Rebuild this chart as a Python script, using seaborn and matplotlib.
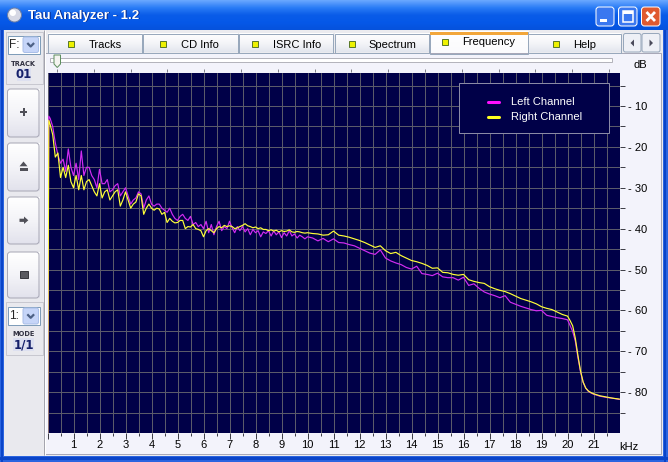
import numpy as np
import pandas as pd
import matplotlib
matplotlib.use("Agg")
import matplotlib.pyplot as plt
import seaborn as sns
from matplotlib.patches import Rectangle, FancyBboxPatch, Circle, Polygon
from matplotlib.colors import LinearSegmentedColormap

# ------------------------------------------------------------------ data
WINDOW_TITLE = "Tau Analyzer - 1.2"
TAB_NAMES = ["Tracks", "CD Info", "ISRC Info", "Spectrum", "Frequency", "Help"]
SELECTED_TAB = "Frequency"
CHANNELS = ["Left Channel", "Right Channel"]

FREQ_LOW = [0.0, 0.05,
            0.1, 0.2, 0.3, 0.4, 0.5, 0.6, 0.7, 0.8, 0.9, 1.0,
            1.1, 1.2, 1.3, 1.4, 1.5, 1.6, 1.7, 1.8, 1.9, 2.0,
            2.1, 2.2, 2.3, 2.4, 2.5, 2.6, 2.7, 2.8, 2.9, 3.0,
            3.1, 3.2, 3.3, 3.4, 3.5, 3.6, 3.7, 3.8, 3.9, 4.0,
            4.1, 4.2, 4.3, 4.4, 4.5, 4.6, 4.7, 4.8, 4.9, 5.0,
            5.1, 5.2, 5.3, 5.4, 5.5, 5.6, 5.7, 5.8, 5.9, 6.0,
            6.1, 6.2, 6.3, 6.4, 6.5, 6.6, 6.7, 6.8, 6.9, 7.0,
            7.1, 7.2, 7.3, 7.4, 7.5, 7.6, 7.7, 7.8, 7.9, 8.0,
            8.1, 8.2, 8.3, 8.4, 8.5, 8.6, 8.7, 8.8, 8.9, 9.0,
            9.1, 9.2, 9.3, 9.4, 9.5, 9.6, 9.7, 9.8, 9.9, 10.0]
LEFT_LOW = [-95, -12.5,
            -13, -15, -19, -22, -24, -23, -26, -20.5, -25, -27,
            -24, -28, -21, -27, -25, -25, -27, -28, -30, -25.5,
            -29, -29, -28, -31, -30.5, -29.5, -29, -32, -31, -30,
            -32, -34, -33, -32.5, -31, -31.5, -35, -33, -32, -34,
            -34.5, -34, -34, -35, -35.5, -36, -35, -36.5, -37.5, -38,
            -37, -36.5, -37.5, -38, -37, -39, -38.5, -39.5, -39, -40,
            -38.2, -41, -39, -41.5, -39.5, -38.2, -40.5, -39.5, -40, -38.2,
            -39.8, -41, -39.5, -40.5, -39.5, -40.8, -40, -41.5, -40.2, -41,
            -40.5, -42, -40.8, -41.2, -40.5, -41.8, -40.6, -41.5, -40.8, -42.2,
            -41, -41.8, -40.5, -41.8, -41.3, -42.3, -41.6, -42, -42.5, -42]
RIGHT_LOW = [-95, -13.5,
             -14.5, -17, -22.5, -21.5, -27.5, -25, -27.5, -24.5, -28.5, -30,
             -27, -30.5, -27, -30.5, -28.5, -28, -29.5, -31, -32, -29,
             -32.5, -31, -30.5, -33, -32, -31, -30.5, -34.5, -33, -31,
             -33, -35, -34, -33.5, -31.5, -32, -36.5, -35, -34, -35,
             -35.5, -35, -35.2, -36.5, -36, -38.5, -37.5, -38.2, -38.6, -38.5,
             -38, -38, -40, -39.5, -39.6, -39, -40, -40.2, -40.5, -42,
             -40.5, -40, -40.5, -41, -40, -39.5, -39.8, -39.2, -39.5, -39.3,
             -39.5, -40, -39.8, -39.5, -39.2, -38.8, -39.3, -39.5, -39.8, -39.6,
             -40, -39.8, -40.2, -40.2, -40.5, -40.3, -40.6, -40.4, -40.8, -40.5,
             -40.7, -40.6, -40.3, -40.8, -40.9, -40.7, -40.8, -41, -41.1, -41]

FREQ_MID = [10.2, 10.4, 10.6, 10.8, 11.0, 11.2, 11.4, 11.6, 11.8, 12.0,
            12.2, 12.4, 12.6, 12.8, 13.0, 13.2, 13.4, 13.6, 13.8, 14.0,
            14.2, 14.4, 14.6, 14.8, 15.0, 15.2, 15.4, 15.6, 15.8, 16.0,
            16.2, 16.4, 16.6, 16.8, 17.0, 17.2, 17.4, 17.6, 17.8, 18.0,
            18.2, 18.4, 18.6, 18.8, 19.0, 19.2, 19.4, 19.6, 19.8, 20.0]
LEFT_MID = [-42.3, -43.0, -42.4, -43.2, -42.5, -43.4, -43.5, -43.9, -44.2, -44.8,
            -45.4, -46.0, -46.3, -45.2, -47.2, -47.9, -48.4, -48.8, -49.5, -49.9,
            -49.2, -51.0, -51.2, -51.5, -50.9, -51.8, -52.0, -52.0, -52.6, -51.9,
            -53.9, -53.5, -54.6, -55.5, -56.0, -56.4, -56.9, -56.4, -58.0, -58.5,
            -59.0, -59.4, -59.8, -60.1, -60.0, -61.2, -61.5, -61.8, -62.0, -62.3]
RIGHT_MID = [-41.2, -41.3, -41.6, -41.5, -40.6, -41.6, -41.8, -42.1, -42.5, -42.9,
             -43.4, -44.0, -44.6, -44.2, -45.4, -46.1, -45.8, -46.6, -47.2, -47.8,
             -48.1, -48.5, -49.0, -49.7, -49.6, -50.7, -50.8, -51.2, -51.4, -51.2,
             -52.5, -52.9, -53.2, -53.4, -54.2, -54.7, -55.1, -55.4, -55.9, -56.5,
             -57.1, -57.5, -57.9, -58.4, -59.1, -59.5, -59.8, -60.4, -61.0, -61.4]

FREQ_HIGH = [20.1, 20.2, 20.3, 20.4, 20.5, 20.6, 20.7, 20.8, 20.9, 21.0,
             21.25, 21.5, 21.75, 22.0]
LEFT_HIGH = [-63.7, -65.2, -67.5, -71.5, -75.0, -77.6, -79.0, -79.8, -80.2, -80.5,
             -81.0, -81.3, -81.5, -81.8]
RIGHT_HIGH = [-62.5, -63.8, -66.8, -71.0, -74.8, -77.5, -79.0, -79.7, -80.1, -80.4,
              -80.9, -81.2, -81.5, -81.7]

X_TICKS = [0, 1, 2, 3, 4, 5, 6, 7, 8, 9, 10, 11, 12, 13, 14, 15, 16, 17, 18, 19, 20, 21]
X_TICK_LABELS = ["", "1", "2", "3", "4", "5", "6", "7", "8", "9", "10", "11",
                 "12", "13", "14", "15", "16", "17", "18", "19", "20", "21"]
Y_TICKS = [-10, -20, -30, -40, -50, -60, -70, -80]
Y_TICK_LABELS = ["- 10", "- 20", "- 30", "- 40", "- 50", "- 60", "- 70", "- 80"]
X_UNIT = "kHz"
Y_UNIT = "dB"

# ------------------------------------------------------------------ setup
sns.set_style("white")
plt.rcParams['font.family'] = ['Liberation Sans', 'DejaVu Sans']

W, H = 668, 462
PX = 0.72
NAVY = '#000048'
GRID = '#5a5a6a'
LEFT_COLOR = '#d22cf2'
RIGHT_COLOR = '#ffff38'
LEGEND_COLORS = ['#ff10ff', '#ffff20']

fig = plt.figure(figsize=(W / 100, H / 100), dpi=100)
bg = fig.add_axes([0, 0, 1, 1])
bg.axis('off')


def box(x0, y0, x1, y1, fc, ec='none', lw=PX, z=1, r=None):
    if r:
        p = FancyBboxPatch((x0, y0), x1 - x0, y1 - y0,
                           boxstyle=f"round,pad=0,rounding_size={r}",
                           fc=fc, ec=ec, lw=lw, zorder=z)
    else:
        p = Rectangle((x0, y0), x1 - x0, y1 - y0, fc=fc, ec=ec, lw=lw, zorder=z)
    bg.add_patch(p)
    return p


def vgrad(x0, y0, x1, y1, colors, z=1):
    cm = LinearSegmentedColormap.from_list('g', colors)
    bg.imshow(np.linspace(0, 1, 64)[:, None], extent=[x0, x1, y1, y0],
              cmap=cm, aspect='auto', zorder=z, interpolation='bilinear')


def line(xs, ys, color, lw=PX, z=3):
    bg.plot(xs, ys, color=color, lw=lw, zorder=z, solid_capstyle='butt')


# window body + frame
box(0, 0, W, H, '#ebebef', z=0)
vgrad(0, 0, W, 30, ['#6aa8ff', '#2a7cf6', '#0a5ce8', '#0558e8', '#0652dc'], z=1)
box(0, 30, 4, H, '#2a64e0', z=1)
box(1, 30, 3, H, '#0a44c8', z=1.1)
box(663, 30, W, H, '#2a64e0', z=1)
box(664, 30, 666, H, '#0a44c8', z=1.1)
box(0, 456, W, H, '#2a64e0', z=1)
box(0, 457, W, 460, '#0a44c8', z=1.1)

# title bar
bg.add_patch(Circle((14.5, 15), 7, fc='#d6d8e4', ec='#6a7ea8', lw=PX, zorder=3))
bg.add_patch(Circle((12.8, 12.8), 3.2, fc='#ffffff', ec='none', zorder=3.1))
bg.text(29, 16.5, WINDOW_TITLE, color='#0a2a8a', fontsize=9.5, fontweight='bold',
        va='center', ha='left', zorder=3)
bg.text(28, 15.5, WINDOW_TITLE, color='white', fontsize=9.5, fontweight='bold',
        va='center', ha='left', zorder=3.1)
box(596, 7, 614, 26, '#3a78f0', ec='white', r=3, z=3)
box(600, 19, 606.5, 21.5, 'white', z=3.2)
box(618.5, 7, 637, 26, '#3a78f0', ec='white', r=3, z=3)
box(622.5, 11, 633, 22, 'none', ec='white', lw=1.1, z=3.2)
box(622.5, 11, 633, 13.5, 'white', z=3.2)
box(641.5, 7, 660, 26, '#e05a30', ec='white', r=3, z=3)
line([646.5, 655], [12, 21], 'white', lw=2.0, z=3.2)
line([655, 646.5], [12, 21], 'white', lw=2.0, z=3.2)

# left panel
box(4, 30, 43, 455, '#e9e9ee', z=1)
line([43.5, 43.5], [30, 455], '#a4a4ae', z=1.5)
line([44.5, 44.5], [30, 455], '#ffffff', z=1.5)

# chart panel
box(45, 52.5, 660.5, 453.5, '#f3f3fb', ec='#a8a8b8', z=1.2)

# tabs
TAB_EDGES = [(47.7, 142.3), (143.3, 237.7), (239.3, 333.3), (335, 429.3), (430, 528.3), (528.3, 621)]
TAB_TEXT_X = [105, 200, 296.7, 392.7, 488.3, 585]
TAB_SQ_X = [70.7, 163, 255, 351.7, 445, 555.7]
for name, (x0, x1), tx, sx in zip(TAB_NAMES, TAB_EDGES, TAB_TEXT_X, TAB_SQ_X):
    sel = name == SELECTED_TAB
    if sel:
        vgrad(x0, 32, x1, 53.5, ['#ffffff', '#fbfbfd'], z=2)
        box(x0, 32, x1, 53.5, 'none', ec='#98a8bc', z=2.1)
        box(x0, 32, x1, 34.5, '#f2a63a', z=2.2)
        ty = 42.3
    else:
        vgrad(x0, 34, x1, 52.5, ['#ffffff', '#f5f6f9', '#e3e6ee'], z=2)
        box(x0, 34, x1, 52.5, 'none', ec='#98a8bc', z=2.1)
        ty = 44.5
    box(sx - 3, ty - 3.5, sx + 3, ty + 2.5, '#eef200', ec='#5c7a2a', z=2.3)
    bg.text(tx, ty, name, fontsize=8, ha='center', va='center', color='black', zorder=2.4)

box(623.5, 33.5, 641, 52, '#eef0f6', ec='#98a8bc', r=2, z=2)
box(642, 33.5, 660, 52, '#eef0f6', ec='#98a8bc', r=2, z=2)
bg.add_patch(Polygon([(634, 39.5), (634, 46.5), (630.5, 43)], fc='#4a4a5a', ec='none', zorder=2.2))
bg.add_patch(Polygon([(649.5, 39.5), (649.5, 46.5), (653, 43)], fc='#4a4a5a', ec='none', zorder=2.2))

# slider
box(50, 57.5, 612, 62, '#ffffff', ec='#b4b4bc', z=2)
for i in range(16):
    xt = 57 + i * 36.8
    line([xt, xt], [69, 72], '#80808a', z=2)
bg.add_patch(Polygon([(54, 55), (60.5, 55), (60.5, 64), (57.25, 67.5), (54, 64)],
                     fc='#f4f4f0', ec='#5f8f5f', lw=PX, zorder=3))
bg.text(640.5, 65.5, Y_UNIT, fontsize=8, ha='center', va='center', color='black', zorder=3)
bg.text(629, 446.5, X_UNIT, fontsize=8, ha='center', va='center', color='black', zorder=3)

# left controls
box(6, 32, 43, 83.5, 'none', ec='#c8c8d0', z=2)
box(7.5, 36, 39.5, 53.5, '#ffffff', ec='#7f9db9', z=2)
box(23, 37, 38.5, 52.5, '#c6d5f8', ec='#aabfe8', r=2, z=2.1)
line([27.3, 30.7, 34.1], [43, 46.5, 43], '#4d6185', lw=1.6, z=2.2)
bg.text(9.5, 45, "F:", fontsize=8.5, ha='left', va='center', zorder=2.2)
bg.text(23.5, 63.5, "TRACK", fontsize=4.8, fontweight='bold', ha='center', va='center',
        color='#303040', zorder=2.2, family=['DejaVu Sans'])
box(16.5, 67.5, 31, 81, '#dde0f0', z=2)
bg.text(23.7, 74.5, "01", fontsize=8.5, fontweight='bold', ha='center', va='center',
        color='#15206a', zorder=2.2, family=['DejaVu Sans'])

for (y0, y1) in [(89, 137), (143, 191), (197, 244), (252, 298)]:
    vgrad(7.5, y0, 39, y1, ['#ffffff', '#f4f4f8', '#e2e2ec'], z=2)
    box(7.5, y0, 39, y1, 'none', ec='#a8a8b6', r=3, z=2.1)
ICON = '#505058'
box(20.3, 110.8, 27, 113.2, ICON, z=2.3)
box(22.5, 108.3, 24.8, 115.7, ICON, z=2.3)
bg.add_patch(Polygon([(19.5, 166.3), (27.5, 166.3), (23.5, 161.5)], fc=ICON, ec='none', zorder=2.3))
box(19.5, 168, 27.5, 170.5, ICON, z=2.3)
bg.add_patch(Polygon([(19.5, 218.7), (24, 218.7), (24, 216.5), (28.3, 220.3), (24, 224),
                      (24, 221.9), (19.5, 221.9)], fc=ICON, ec='none', zorder=2.3))
box(20, 271, 27.7, 277.7, '#5a5a60', ec='#3a3a40', z=2.3)

box(6, 302, 43, 355, 'none', ec='#c8c8d0', z=2)
box(7.5, 307, 39.5, 325, '#ffffff', ec='#7f9db9', z=2)
box(23, 308, 38.5, 324, '#c6d5f8', ec='#aabfe8', r=2, z=2.1)
line([27.3, 30.7, 34.1], [314.3, 317.8, 314.3], '#4d6185', lw=1.6, z=2.2)
bg.text(9.5, 316.3, "1:", fontsize=8.5, ha='left', va='center', zorder=2.2)
bg.text(23.5, 333.5, "MODE", fontsize=4.8, fontweight='bold', ha='center', va='center',
        color='#303040', zorder=2.2, family=['DejaVu Sans'])
box(13, 338, 34, 351, '#dde0f0', z=2)
bg.text(23.5, 344.7, "1/1", fontsize=8.5, fontweight='bold', ha='center', va='center',
        color='#15206a', zorder=2.2, family=['DejaVu Sans'])

bg.set_xlim(0, W)
bg.set_ylim(H, 0)

# ------------------------------------------------------------------ chart
AX_L, AX_R, AX_T, AX_B = 47.5, 619.5, 73.3, 433.0
ax = fig.add_axes([AX_L / W, 1 - AX_B / H, (AX_R - AX_L) / W, (AX_B - AX_T) / H])
ax.set_facecolor(NAVY)


def ax_xy(px, py):
    return ((px - AX_L) / (AX_R - AX_L), (AX_B - py) / (AX_B - AX_T))


freq = FREQ_LOW + FREQ_MID + FREQ_HIGH
left = LEFT_LOW + LEFT_MID + LEFT_HIGH
right = RIGHT_LOW + RIGHT_MID + RIGHT_HIGH
df = pd.DataFrame({
    "kHz": freq + freq,
    "dB": left + right,
    "channel": [CHANNELS[0]] * len(freq) + [CHANNELS[1]] * len(freq),
})

sns.lineplot(data=df, x="kHz", y="dB", hue="channel", hue_order=CHANNELS,
             palette=[LEFT_COLOR, RIGHT_COLOR], estimator=None, sort=False,
             lw=0.85, ax=ax)

ax.set_xlim(0, 22)
ax.set_ylim(-90, -2)
ax.set_xlabel("")
ax.set_ylabel("")
for s in ax.spines.values():
    s.set_visible(False)

ax.set_xticks(X_TICKS)
ax.set_xticklabels(X_TICK_LABELS)
ax.set_xticks([t + 0.5 for t in X_TICKS], minor=True)
ax.yaxis.tick_right()
ax.set_yticks(Y_TICKS)
ax.set_yticklabels(Y_TICK_LABELS)
ax.set_yticks([t + 5 for t in Y_TICKS] + [Y_TICKS[-1] - 5], minor=True)

ax.tick_params(axis='x', which='major', direction='out', length=4.3, width=PX,
               color='#404048', pad=0.8, labelsize=8, labelcolor='black',
               bottom=True, top=False)
ax.tick_params(axis='x', which='minor', direction='out', length=2.3, width=PX,
               color='#404048', bottom=True, top=False)
ax.tick_params(axis='y', which='both', direction='out', length=3.6, width=PX,
               color='#404048', pad=2.6, labelsize=8, labelcolor='black',
               right=True, left=False)

ax.set_axisbelow(True)
ax.grid(True, which='both', color=GRID, lw=PX, ls='-')

# legend
handles, labels = ax.get_legend_handles_labels()
if ax.get_legend() is not None:
    ax.get_legend().remove()
fx0, fy1 = ax_xy(459, 133)
fx1, fy0 = ax_xy(609, 83)
ax.add_patch(Rectangle((fx0, fy1), fx1 - fx0, fy0 - fy1, transform=ax.transAxes,
                       fc=NAVY, ec='#8a8aa6', lw=PX, zorder=4))
lx, ly = ax_xy(488.3, 97.5)
leg = ax.legend(handles, labels, loc='upper left', bbox_to_anchor=(lx, ly),
                frameon=False, fontsize=8, handlelength=1.0, handletextpad=1.05,
                labelspacing=0.45, borderpad=0, borderaxespad=0)
leg.set_zorder(5)
for t in leg.get_texts():
    t.set_color('white')
for ln, c in zip(leg.get_lines(), LEGEND_COLORS):
    ln.set_linewidth(2.2)
    ln.set_color(c)

fig.savefig("out.png", dpi=100)
